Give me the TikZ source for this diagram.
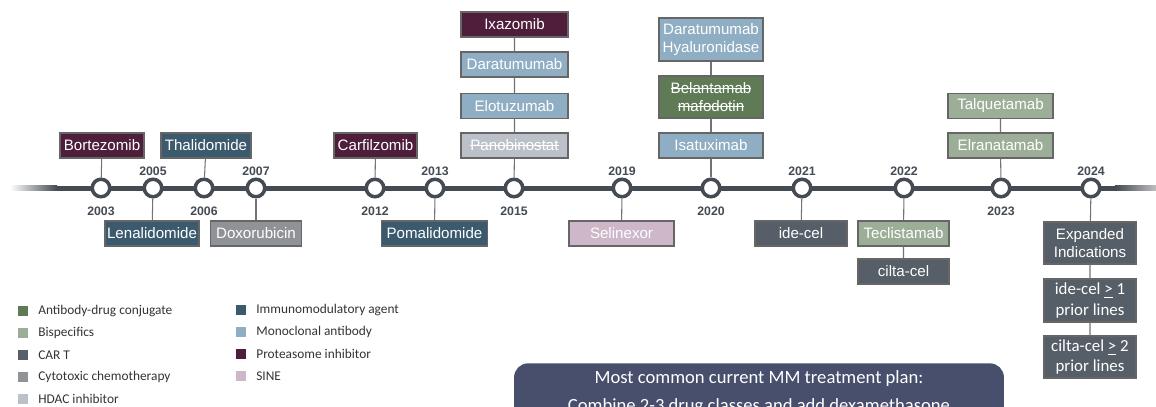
\documentclass[tikz,border=0pt]{standalone}
\usepackage{fontspec}
\setmainfont{Liberation Sans}
\newfontfamily\calibri{Carlito}
\usetikzlibrary{positioning}
\definecolor{tline}{HTML}{444B53}
\definecolor{cADC}{HTML}{5E7B56}
\definecolor{cBisp}{HTML}{9DAE98}
\definecolor{cCART}{HTML}{565E67}
\definecolor{cChemo}{HTML}{8F9297}
\definecolor{cHDAC}{HTML}{BCC1C9}
\definecolor{cIMiD}{HTML}{3C5A6E}
\definecolor{cMAb}{HTML}{8FAEC3}
\definecolor{cPI}{HTML}{4E1E3A}
\definecolor{cSINE}{HTML}{CDB7C8}
\definecolor{cPlan}{HTML}{474F6C}
\newcommand{\strk}[1]{\setbox0\hbox{#1}\rlap{\rule[0.3em]{\wd0}{0.5pt}}\box0}

\begin{document}
\begin{tikzpicture}[%
    x=0.02cm,
    y=-0.02cm,
    drug/.style={%
      rectangle,
      draw=black!60,
      line width=0.6pt,
      text=white,
      minimum height=0.5cm,
      inner sep=1pt,
      align=center,
      font=\fontsize{8.6}{10.5}\selectfont
    },
    adc/.style={drug, fill=cADC},
    bisp/.style={drug, fill=cBisp},
    cart/.style={drug, fill=cCART},
    chemo/.style={drug, fill=cChemo},
    hdac/.style={drug, fill=cHDAC},
    imid/.style={drug, fill=cIMiD},
    mab/.style={drug, fill=cMAb},
    pi/.style={drug, fill=cPI},
    sine/.style={drug, fill=cSINE},
    dot/.style={%
      circle,
      draw=tline,
      line width=2pt,
      fill=white,
      minimum size=0.35cm,
      inner sep=0pt
    },
    year/.style={text=tline, inner sep=0pt, font=\bfseries\fontsize{7}{8}\selectfont},
    link/.style={draw=black!55, line width=0.6pt},
    key/.style={rectangle, minimum size=0.2cm, inner sep=0pt},
    keytext/.style={anchor=west, text=black!80, inner sep=0pt, font=\calibri\fontsize{7.6}{9}\selectfont}
  ]
    \useasboundingbox (0,0) rectangle (1156,406);
    \clip (0,0) rectangle (1156,406);

    % timeline
    \fill[tline] (57,185.5) rectangle (1115,190.5);
    \shade[left color=white, right color=tline] (10,185.5) rectangle (57,190.5);
    \shade[left color=tline, right color=black!25] (1115,185.5) rectangle (1156,190.5);

    \foreach \yr/\x in {2003/101, 2005/153, 2006/204, 2007/256, 2012/375,
                        2013/435, 2015/514, 2019/622, 2020/711, 2021/802,
                        2022/904, 2023/1001, 2024/1091}
      \node[dot] (c\yr) at (\x,188) {};

    % years above / below
    \foreach \yr in {2005, 2007, 2013, 2019, 2021, 2022, 2024}
      \node[year] at (c\yr |- 0,171.5) {\yr};
    \foreach \yr in {2003, 2006, 2012, 2015, 2020, 2023}
      \node[year] at (c\yr |- 0,211) {\yr};

    % drugs
    \node[pi, minimum width=1.68cm]   (bort) at (102,145.5)   {Bortezomib};
    \node[imid, minimum width=1.8cm]  (thal) at (206,145.5)   {Thalidomide};
    \node[imid, minimum width=1.88cm] (lena) at (152,233.5)   {Lenalidomide};
    \node[chemo, minimum width=1.82cm] (doxo) at (256,233.5)  {Doxorubicin};
    \node[pi, minimum width=1.66cm]   (carf) at (375.5,145.5) {Carfilzomib};
    \node[imid, minimum width=2.12cm] (poma) at (434.5,233.5) {Pomalidomide};

    \node[pi, minimum width=2.14cm]   (ixa)  at (514.5,24.5)  {Ixazomib};
    \node[mab, minimum width=2.14cm]  (dara) at (514.5,64.5)  {Daratumumab};
    \node[mab, minimum width=2.14cm]  (elo)  at (514.5,106)   {Elotuzumab};
    \node[hdac, minimum width=2.14cm] (pano) at (514.5,145.5) {\strk{Panobinostat}};

    \node[sine, minimum width=2.1cm]  (seli) at (621.5,233.5) {Selinexor};

    \node[mab, minimum width=2.08cm, minimum height=0.86cm] (darah) at (711,39.5) {Daratumumab\\Hyaluronidase};
    \node[adc, minimum width=2.08cm, minimum height=0.84cm] (belan) at (711,97)   {\strk{Belantamab}\\\strk{mafodotin}};
    \node[mab, minimum width=2.08cm]  (isa)  at (711,145.5)   {Isatuximab};

    \node[cart, minimum width=1.84cm] (ide)  at (801,233.5)   {ide-cel};
    \node[bisp, minimum width=1.82cm] (tecl) at (903.5,233.5) {Teclistamab};
    \node[cart, minimum width=1.82cm] (cilta) at (903.5,271.5) {cilta-cel};
    \node[bisp, minimum width=2.1cm]  (talq) at (1000.5,106)  {Talquetamab};
    \node[bisp, minimum width=2.1cm]  (elra) at (1000.5,145.5) {Elranatamab};

    \node[cart, minimum width=1.84cm, minimum height=0.84cm] (expd) at (1090,243) {Expanded\\Indications};
    \node[cart, minimum width=1.84cm, minimum height=0.86cm, font=\calibri\fontsize{9.6}{11.5}\selectfont] (idex) at (1090,300.5) {ide-cel \underline{>} 1\\prior lines};
    \node[cart, minimum width=1.84cm, minimum height=0.84cm, font=\calibri\fontsize{9.6}{11.5}\selectfont] (ciltax) at (1090,357) {cilta-cel \underline{>} 2\\prior lines};

    % links
    \draw[link] (bort) -- (c2003);
    \draw[link] (c2005) -- (lena);
    \draw[link] (thal) -- (c2006);
    \draw[link] (c2007) -- (doxo);
    \draw[link] (carf) -- (c2012);
    \draw[link] (c2013) -- (poma);
    \draw[link] (ixa) -- (dara) -- (elo) -- (pano) -- (c2015);
    \draw[link] (c2019) -- (seli);
    \draw[link] (darah) -- (belan) -- (isa) -- (c2020);
    \draw[link] (c2021) -- (ide);
    \draw[link] (c2022) -- (tecl) -- (cilta);
    \draw[link] (talq) -- (elra) -- (c2023);
    \draw[link] (c2024) -- (expd) -- (idex) -- (ciltax);

    % legend
    \foreach \y/\col/\txt in {311/cADC/Antibody-drug conjugate, 333/cBisp/Bispecifics,
                              355/cCART/CAR T, 377/cChemo/Cytotoxic chemotherapy,
                              399/cHDAC/HDAC inhibitor}
    {
      \node[key, fill=\col] (k\y) at (23,\y) {};
      \node[keytext] at (38,\y) {\txt};
    }
    \foreach \y/\col/\txt in {310/cIMiD/Immunomodulatory agent, 332/cMAb/Monoclonal antibody,
                              354/cPI/Proteasome inhibitor, 376/cSINE/SINE}
    {
      \node[key, fill=\col] (m\y) at (241,\y) {};
      \node[keytext] at (256,\y) {\txt};
    }

    % plan
    \node[rectangle, rounded corners=8pt, fill=cPlan, text=white, anchor=north,
          minimum width=9.8cm, inner sep=4pt, align=center,
          font=\calibri\fontsize{10.6}{16}\selectfont] (plan) at (759,363)
          {Most common current MM treatment plan:\\Combine 2-3 drug classes and add dexamethasone};
  \end{tikzpicture}
\end{document}
